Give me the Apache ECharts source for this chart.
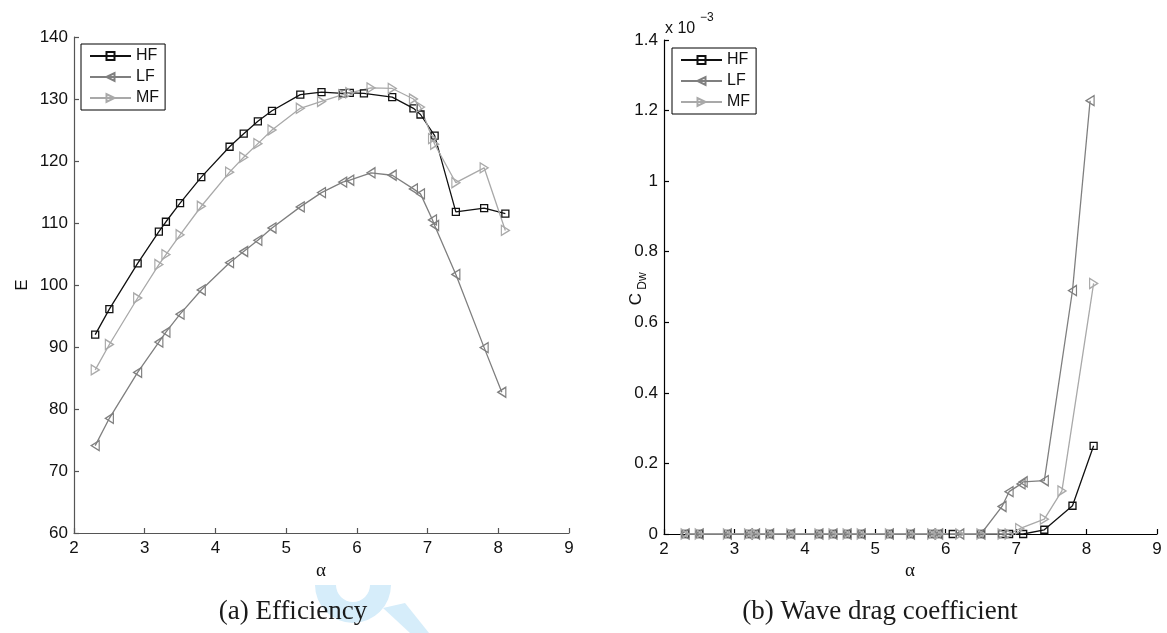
<!DOCTYPE html>
<html>
<head>
<meta charset="utf-8">
<script src="https://cdn.jsdelivr.net/npm/echarts@6/dist/echarts.min.js"></script>
<style>
  html, body { margin: 0; padding: 0; background: #fff; }
  #chart { width: 1167px; height: 633px; }
</style>
</head>
<body>
<div id="chart"></div>
<script>
// ---- (a) Efficiency E versus angle of attack alpha ----
const alphaHF = [2.3, 2.5, 2.9, 3.2, 3.3, 3.5, 3.8, 4.2, 4.4, 4.6, 4.8, 5.2, 5.5, 5.8, 5.9, 6.1, 6.5, 6.8, 6.9, 7.1, 7.4, 7.8, 8.1];
const effHF   = [92.0, 96.1, 103.5, 108.6, 110.2, 113.2, 117.4, 122.3, 124.4, 126.4, 128.1, 130.7, 131.1, 130.9, 131.0, 130.9, 130.3, 128.5, 127.5, 124.1, 111.8, 112.4, 111.5];

const alphaLF = [2.3, 2.5, 2.9, 3.2, 3.3, 3.5, 3.8, 4.2, 4.4, 4.6, 4.8, 5.2, 5.5, 5.8, 5.9, 6.2, 6.5, 6.8, 6.9, 7.07, 7.1, 7.4, 7.8, 8.05];
const effLF   = [74.1, 78.5, 85.9, 90.8, 92.4, 95.3, 99.2, 103.6, 105.4, 107.2, 109.2, 112.6, 114.9, 116.6, 116.9, 118.1, 117.7, 115.5, 114.7, 110.5, 109.6, 101.7, 89.9, 82.7];

const alphaMF = [2.3, 2.5, 2.9, 3.2, 3.3, 3.5, 3.8, 4.2, 4.4, 4.6, 4.8, 5.2, 5.5, 5.8, 5.9, 6.2, 6.5, 6.8, 6.9, 7.07, 7.1, 7.4, 7.8, 8.1];
const effMF   = [86.3, 90.4, 97.9, 103.3, 104.9, 108.1, 112.7, 118.2, 120.6, 122.8, 125.0, 128.5, 129.6, 130.7, 131.0, 131.8, 131.7, 130.0, 128.7, 123.6, 122.7, 116.5, 118.9, 108.8];

// ---- (b) Wave drag coefficient C_Dw (in units of 1e-3) ----
const waveAlphaHF = [2.3, 2.5, 2.9, 3.2, 3.3, 3.5, 3.8, 4.2, 4.4, 4.6, 4.8, 5.2, 5.5, 5.8, 5.9, 6.1, 6.5, 6.8, 6.9, 7.1, 7.4, 7.8, 8.1];
const cdwHF       = [0, 0, 0, 0, 0, 0, 0, 0, 0, 0, 0, 0, 0, 0, 0, 0, 0, 0, 0, 0, 0.012, 0.080, 0.250];

const waveAlphaLF = [2.3, 2.5, 2.9, 3.2, 3.3, 3.5, 3.8, 4.2, 4.4, 4.6, 4.8, 5.2, 5.5, 5.8, 5.9, 6.2, 6.5, 6.8, 6.9, 7.07, 7.1, 7.4, 7.8, 8.05];
const cdwLF       = [0, 0, 0, 0, 0, 0, 0, 0, 0, 0, 0, 0, 0, 0, 0, 0, 0, 0.078, 0.120, 0.142, 0.148, 0.151, 0.690, 1.228];

const waveAlphaMF = [2.3, 2.5, 2.9, 3.2, 3.3, 3.5, 3.8, 4.2, 4.4, 4.6, 4.8, 5.2, 5.5, 5.8, 5.9, 6.2, 6.5, 6.8, 6.9, 7.05, 7.4, 7.65, 8.1];
const cdwMF       = [0, 0, 0, 0, 0, 0, 0, 0, 0, 0, 0, 0, 0, 0, 0, 0, 0, 0, 0, 0.015, 0.042, 0.122, 0.710];

// ---- tick values ----
const alphaTicks = { min: 2, max: 9, interval: 1 };
const effTicks   = { min: 60, max: 140, interval: 10 };
const cdwTicks   = { min: 0, max: 1.4, interval: 0.2 };

const seriesNames = ['HF', 'LF', 'MF'];

// styling
const colors = { HF: '#111111', LF: '#7f7f7f', MF: '#a9a9a9' };
const symbols = {
  HF: 'rect',
  LF: 'path://M0,5L8.66,0L8.66,10Z',   // left-pointing triangle
  MF: 'path://M8.66,5L0,0L0,10Z'       // right-pointing triangle
};
const symbolSizes = { HF: 7, LF: [8, 10], MF: [8, 10] };
const SANS = '"Liberation Sans", Arial, Helvetica, sans-serif';
const SERIF = '"Liberation Serif", "Times New Roman", serif';

function pairs(xs, ys) { return xs.map((x, i) => [x, ys[i]]); }

function lineSeries(name, xs, ys, gridIdx) {
  return {
    type: 'line',
    name: name,
    xAxisIndex: gridIdx,
    yAxisIndex: gridIdx,
    data: pairs(xs, ys),
    symbol: symbols[name],
    symbolSize: symbolSizes[name],
    symbolKeepAspect: false,
    showAllSymbol: true,
    animation: false,
    lineStyle: { color: colors[name], width: 1.3 },
    itemStyle: { color: 'rgba(255,255,255,0)', borderColor: colors[name], borderWidth: 1.3 },
    emphasis: { disabled: true }
  };
}

function xAxisOf(gridIdx, axisColor) {
  return {
    type: 'value', gridIndex: gridIdx,
    min: alphaTicks.min, max: alphaTicks.max, interval: alphaTicks.interval,
    axisLine: { show: true, onZero: false, lineStyle: { color: axisColor, width: 1.2 } },
    axisTick: { show: true, inside: true, length: 5, lineStyle: { color: axisColor, width: 1.2 } },
    axisLabel: { fontFamily: SANS, fontSize: 17, color: '#111', margin: 7 },
    splitLine: { show: false }
  };
}

function yAxisOf(gridIdx, ticks, axisColor) {
  return {
    type: 'value', gridIndex: gridIdx,
    min: ticks.min, max: ticks.max, interval: ticks.interval,
    axisLine: { show: true, onZero: false, lineStyle: { color: axisColor, width: 1.2 } },
    axisTick: { show: true, inside: true, length: 5, lineStyle: { color: axisColor, width: 1.2 } },
    axisLabel: { fontFamily: SANS, fontSize: 17, color: '#111', margin: 6 },
    splitLine: { show: false }
  };
}

function legendAt(left, top) {
  return {
    show: true,
    data: seriesNames,
    orient: 'vertical',
    left: left, top: top,
    itemWidth: 41, itemHeight: 10, itemGap: 5,
    padding: [4, 6, 4, 8],
    borderColor: '#000', borderWidth: 1,
    backgroundColor: '#fff',
    selectedMode: false,
    textStyle: { fontFamily: SANS, fontSize: 16, color: '#111', lineHeight: 16 }
  };
}

const chart = echarts.init(document.getElementById('chart'), null, { renderer: 'canvas' });

chart.setOption({
  backgroundColor: '#fff',
  animation: false,
  grid: [
    { left: 74, right: 598, top: 37, bottom: 100 },
    { left: 664, right: 10, top: 40, bottom: 99 }
  ],
  xAxis: [xAxisOf(0, '#555'), xAxisOf(1, '#000')],
  yAxis: [yAxisOf(0, effTicks, '#555'), yAxisOf(1, cdwTicks, '#000')],
  legend: [legendAt(81, 44), legendAt(672, 48)],
  series: [
    lineSeries('HF', alphaHF, effHF, 0),
    lineSeries('LF', alphaLF, effLF, 0),
    lineSeries('MF', alphaMF, effMF, 0),
    lineSeries('HF', waveAlphaHF, cdwHF, 1),
    lineSeries('LF', waveAlphaLF, cdwLF, 1),
    lineSeries('MF', waveAlphaMF, cdwMF, 1)
  ],
  graphic: [
    // faint blue mark behind the first caption
    {
      type: 'sector', z: -10, silent: true,
      shape: { cx: 353, cy: 585, r0: 17, r: 38, startAngle: 0, endAngle: Math.PI, clockwise: true },
      style: { fill: '#d6edfa' }
    },
    {
      type: 'polygon', z: -10, silent: true,
      shape: { points: [[383, 608], [405, 603], [429, 633], [410, 633]] },
      style: { fill: '#d6edfa' }
    },
    // axis titles
    {
      type: 'text', x: 22, y: 285, rotation: Math.PI / 2,
      style: { text: 'E', font: '17px ' + SANS, fill: '#111', textAlign: 'center', textVerticalAlign: 'middle' }
    },
    {
      type: 'text', x: 636, y: 299, rotation: Math.PI / 2,
      style: { text: 'C', font: '17px ' + SANS, fill: '#111', textAlign: 'center', textVerticalAlign: 'middle' }
    },
    {
      type: 'text', x: 643, y: 281, rotation: Math.PI / 2,
      style: { text: 'Dw', font: '12px ' + SANS, fill: '#111', textAlign: 'center', textVerticalAlign: 'middle' }
    },
    {
      type: 'text', x: 321, y: 571,
      style: { text: 'α', font: '19px ' + SERIF, fill: '#111', textAlign: 'center', textVerticalAlign: 'middle' }
    },
    {
      type: 'text', x: 910, y: 571,
      style: { text: 'α', font: '19px ' + SERIF, fill: '#111', textAlign: 'center', textVerticalAlign: 'middle' }
    },
    // exponent of the wave-drag axis
    {
      type: 'text', x: 665, y: 29,
      style: { text: 'x 10', font: '16px ' + SANS, fill: '#111', textAlign: 'left', textVerticalAlign: 'middle' }
    },
    {
      type: 'text', x: 700, y: 18,
      style: { text: '−3', font: '12px ' + SANS, fill: '#111', textAlign: 'left', textVerticalAlign: 'middle' }
    },
    // sub-figure captions
    {
      type: 'text', x: 293, y: 612, z: 10,
      style: { text: '(a) Efficiency', font: '27px ' + SERIF, fill: '#1a1a1a', textAlign: 'center', textVerticalAlign: 'middle' }
    },
    {
      type: 'text', x: 880, y: 612, z: 10,
      style: { text: '(b) Wave drag coefficient', font: '27px ' + SERIF, fill: '#1a1a1a', textAlign: 'center', textVerticalAlign: 'middle' }
    }
  ]
});
</script>
</body>
</html>
